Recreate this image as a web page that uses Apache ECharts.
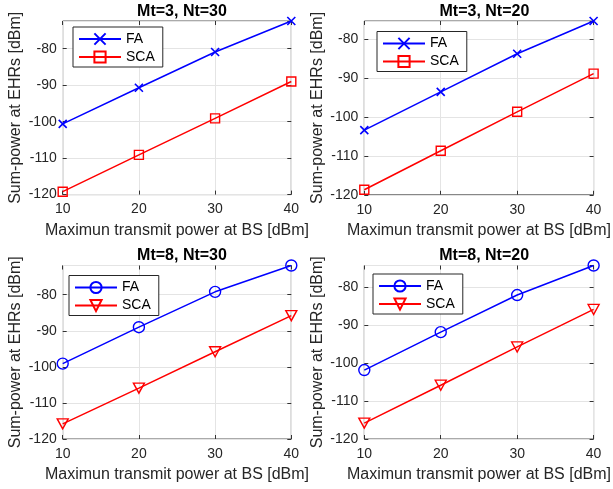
<!DOCTYPE html>
<html>
<head>
<meta charset="utf-8">
<script src="https://cdn.jsdelivr.net/npm/echarts@6/dist/echarts.min.js"></script>
<style>html,body{margin:0;padding:0;background:#fff}#c{width:613px;height:489px}</style>
</head>
<body>
<div id="c"></div>
<script>
// ---- data ----
const power = [10, 20, 30, 40];
const faMt3Nt30 = [-100.6, -90.7, -80.9, -72.4];
const scaMt3Nt30 = [-119.2, -109.1, -99.1, -89.0];
const faMt3Nt20 = [-103.4, -93.6, -83.8, -75.4];
const scaMt3Nt20 = [-118.7, -108.7, -98.7, -88.9];
const faMt8Nt30 = [-99.1, -89.0, -79.2, -71.9];
const scaMt8Nt30 = [-115.8, -105.9, -95.8, -85.8];
const faMt8Nt20 = [-101.8, -91.8, -82.0, -74.2];
const scaMt8Nt20 = [-115.8, -105.8, -95.7, -85.8];
const titles = ['Mt=3, Nt=30', 'Mt=3, Nt=20', 'Mt=8, Nt=30', 'Mt=8, Nt=20'];
const seriesNames = ['FA', 'SCA'];
const xTicks = [10, 20, 30, 40];
const yTicks = [-120, -110, -100, -90, -80];
const xLabel = 'Maximun transmit power at BS [dBm]';
const yLabel = 'Sum-power at EHRs [dBm]';

// ---- layout ----
const FONT = 'Liberation Sans, Arial, Helvetica, sans-serif';
const TXT = '#262626';
const panels = [
  {fa: faMt3Nt30, sca: scaMt3Nt30, grid: {left: 62.7, top: 21, width: 228.6, height: 173.6}, legend: {left: 73, top: 27}, titleTop: -1, style: 'xs'},
  {fa: faMt3Nt20, sca: scaMt3Nt20, grid: {left: 364.3, top: 21, width: 230.2, height: 173.8}, legend: {left: 377, top: 31.5}, titleTop: -1, style: 'xs'},
  {fa: faMt8Nt30, sca: scaMt8Nt30, grid: {left: 62.7, top: 265.5, width: 228.6, height: 173.5}, legend: {left: 69, top: 275.5}, titleTop: 243, style: 'ov'},
  {fa: faMt8Nt20, sca: scaMt8Nt20, grid: {left: 364.3, top: 265.5, width: 229.7, height: 173.5}, legend: {left: 373, top: 274}, titleTop: 243, style: 'ov'}
];

const BLUE = '#0000ff', RED = '#ff0000';
const option = {
  animation: false,
  backgroundColor: '#fff',
  textStyle: {fontFamily: FONT},
  title: [], grid: [], xAxis: [], yAxis: [], legend: [], series: []
};

panels.forEach((p, i) => {
  const g = p.grid;
  const ymax = Math.max(...p.fa);
  option.grid.push({left: g.left, top: g.top, width: g.width, height: g.height, show: true,
    borderColor: '#555', borderWidth: 1, backgroundColor: '#fff'});
  option.title.push({text: titles[i], left: g.left + g.width / 2, top: p.titleTop, textAlign: 'center',
    textStyle: {fontFamily: FONT, fontSize: 16, fontWeight: 'bold', color: '#000'}});
  const tickStyle = {show: true, inside: true, length: 4, lineStyle: {color: '#333', width: 1}};
  option.xAxis.push({gridIndex: i, type: 'value', min: xTicks[0], max: xTicks[xTicks.length - 1], interval: xTicks[1] - xTicks[0],
    name: xLabel, nameLocation: 'middle', nameGap: 28,
    nameTextStyle: {fontFamily: FONT, fontSize: 16, color: TXT},
    axisLine: {show: false}, axisTick: tickStyle,
    axisLabel: {margin: 8, fontFamily: FONT, fontSize: 14, color: TXT},
    splitLine: {show: true, lineStyle: {color: '#e4e4e4', width: 1}}});
  option.xAxis.push({gridIndex: i, type: 'value', position: 'top', min: xTicks[0], max: xTicks[xTicks.length - 1], interval: xTicks[1] - xTicks[0],
    axisLine: {show: false}, axisTick: tickStyle, axisLabel: {show: false}, splitLine: {show: false}});
  option.yAxis.push({gridIndex: i, type: 'value', min: yTicks[0], max: ymax, interval: yTicks[1] - yTicks[0],
    name: yLabel, nameLocation: 'middle', nameGap: 39, nameRotate: 90,
    nameTextStyle: {fontFamily: FONT, fontSize: 16, color: TXT},
    axisLine: {show: false}, axisTick: tickStyle,
    axisLabel: {margin: 6, fontFamily: FONT, fontSize: 14, color: TXT, showMaxLabel: false,
      formatter: v => (yTicks.indexOf(v) >= 0 ? String(v) : '')},
    splitLine: {show: true, lineStyle: {color: '#e4e4e4', width: 1}}});
  option.yAxis.push({gridIndex: i, type: 'value', position: 'right', min: yTicks[0], max: ymax, interval: yTicks[1] - yTicks[0],
    axisLine: {show: false}, axisTick: tickStyle, axisLabel: {show: false}, splitLine: {show: false}});

  const faName = seriesNames[0] + '|' + i, scaName = seriesNames[1] + '|' + i;
  const faSym = p.style === 'xs'
    ? {symbol: 'path://M0,0L10,10M10,0L0,10', symbolSize: 8, itemStyle: {color: BLUE, borderColor: BLUE, borderWidth: 1.6}}
    : {symbol: 'circle', symbolSize: 11, itemStyle: {color: 'rgba(255,255,255,0)', borderColor: BLUE, borderWidth: 1.4}};
  const scaSym = p.style === 'xs'
    ? {symbol: 'rect', symbolSize: 9, itemStyle: {color: 'rgba(255,255,255,0)', borderColor: RED, borderWidth: 1.4}}
    : {symbol: 'triangle', symbolRotate: 180, symbolSize: [11, 10], itemStyle: {color: 'rgba(255,255,255,0)', borderColor: RED, borderWidth: 1.4}};
  option.series.push(Object.assign({name: faName, type: 'line', xAxisIndex: 2 * i, yAxisIndex: 2 * i, clip: false,
    showAllSymbol: true, lineStyle: {color: BLUE, width: 1.5},
    data: power.map((x, k) => [x, p.fa[k]])}, faSym));
  option.series.push(Object.assign({name: scaName, type: 'line', xAxisIndex: 2 * i, yAxisIndex: 2 * i, clip: false,
    showAllSymbol: true, lineStyle: {color: RED, width: 1.5},
    data: power.map((x, k) => [x, p.sca[k]])}, scaSym));
  option.legend.push({orient: 'vertical', left: p.legend.left, top: p.legend.top,
    data: [faName, scaName], itemWidth: 42, itemHeight: 14, itemGap: 4,
    padding: [5, 8, 3, 5], borderColor: '#262626', borderWidth: 1, backgroundColor: '#fff',
    selectedMode: false, textStyle: {fontFamily: FONT, fontSize: 14, color: '#000'},
    formatter: n => n.split('|')[0]});
});

const chart = echarts.init(document.getElementById('c'), null, {renderer: 'canvas'});
chart.setOption(option);
</script>
</body>
</html>
